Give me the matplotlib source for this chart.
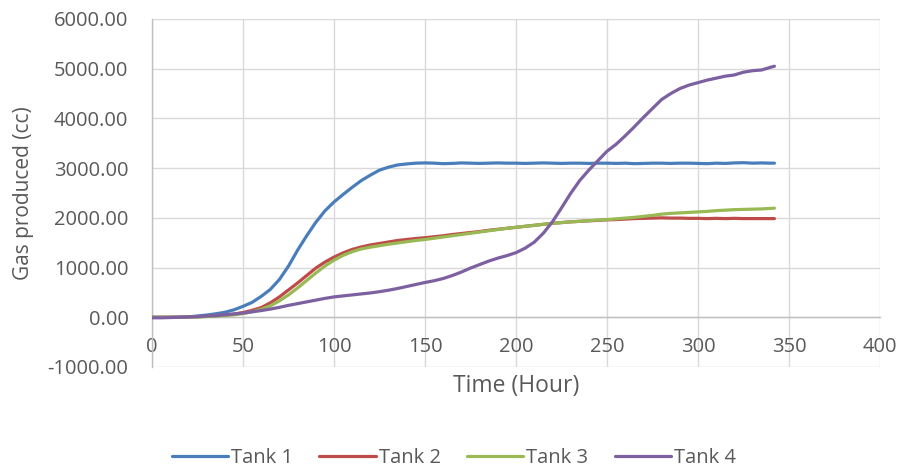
import matplotlib
matplotlib.use("Agg")
import matplotlib.pyplot as plt

plt.rcParams["font.family"] = ["Open Sans", "DejaVu Sans"]

# Sampling times (hours)
hours = list(range(0, 345, 5)) + [342]

tank1 = [0, 0, 0, 5, 10, 25, 45, 70, 100, 150, 220, 300, 420, 560, 760, 1030,
         1350, 1640, 1910, 2140, 2320, 2470, 2615, 2750, 2860, 2960, 3020, 3065,
         3085, 3100, 3105, 3100, 3090, 3095, 3105, 3100, 3095, 3100, 3105, 3100,
         3100, 3095, 3100, 3105, 3100, 3095, 3100, 3100, 3095, 3100, 3100, 3095,
         3100, 3090, 3095, 3100, 3100, 3095, 3100, 3100, 3095, 3090, 3100, 3095,
         3105, 3110, 3100, 3105, 3100, 3100]

tank2 = [0, 0, 0, 0, 5, 10, 20, 30, 45, 65, 95, 140, 195, 290, 410, 550, 690,
         840, 990, 1110, 1210, 1295, 1365, 1415, 1455, 1485, 1515, 1545, 1565,
         1585, 1600, 1620, 1640, 1665, 1685, 1705, 1725, 1750, 1770, 1790, 1810,
         1830, 1850, 1870, 1890, 1905, 1920, 1930, 1940, 1950, 1960, 1965, 1975,
         1985, 1990, 1995, 2000, 1995, 1995, 1990, 1990, 1985, 1990, 1985, 1990,
         1985, 1985, 1985, 1985, 1985]

tank3 = [0, 0, 0, 0, 0, 5, 15, 25, 35, 50, 75, 110, 160, 230, 330, 450, 590,
         740, 890, 1030, 1150, 1245, 1320, 1375, 1410, 1440, 1470, 1495, 1520,
         1545, 1565, 1590, 1615, 1640, 1665, 1690, 1715, 1740, 1765, 1790, 1810,
         1830, 1850, 1870, 1890, 1905, 1920, 1930, 1945, 1955, 1965, 1980, 1995,
         2010, 2030, 2050, 2075, 2090, 2100, 2110, 2120, 2130, 2145, 2155, 2165,
         2170, 2175, 2180, 2190, 2195]

tank4 = [-10, -10, -5, 0, 5, 15, 25, 35, 50, 65, 85, 110, 135, 165, 200, 240,
         275, 310, 345, 380, 410, 430, 450, 470, 490, 515, 545, 580, 620, 660,
         700, 735, 780, 840, 910, 990, 1060, 1130, 1190, 1240, 1300, 1390, 1510,
         1690, 1920, 2200, 2490, 2750, 2960, 3150, 3340, 3480, 3650, 3830, 4020,
         4200, 4380, 4500, 4600, 4670, 4720, 4770, 4810, 4850, 4875, 4930, 4960,
         4975, 5030, 5050]

series_names = ["Tank 1", "Tank 2", "Tank 3", "Tank 4"]
series_colors = ["#4A7EBB", "#BE4B48", "#98B954", "#7D60A0"]

x_ticks = [0, 50, 100, 150, 200, 250, 300, 350, 400]
y_ticks = [-1000, 0, 1000, 2000, 3000, 4000, 5000, 6000]

text_color = "#595959"
grid_color = "#D9D9D9"

fig = plt.figure(figsize=(9.04, 4.68), dpi=100)
ax = fig.add_axes([152 / 904, 1 - 367 / 468, 728 / 904, 348 / 468])

for vals, name, col in zip([tank1, tank2, tank3, tank4], series_names, series_colors):
    ax.plot(hours, vals, color=col, lw=2.3, label=name, solid_capstyle="round",
            zorder=3)

ax.set_xlim(0, 400)
ax.set_ylim(-1000, 6000)
ax.set_xticks(x_ticks)
ax.set_yticks(y_ticks)
ax.set_yticklabels([f"{v:.2f}" for v in y_ticks])
ax.set_xticklabels([str(v) for v in x_ticks])

ax.grid(True, color=grid_color, lw=1.0, zorder=0)
ax.set_axisbelow(True)

for side in ["top", "right"]:
    ax.spines[side].set_visible(False)
ax.spines["left"].set_color("#BFBFBF")
ax.spines["left"].set_linewidth(1.0)
ax.spines["bottom"].set_position(("data", 0))
ax.spines["bottom"].set_color("#BFBFBF")
ax.spines["bottom"].set_linewidth(1.0)

ax.tick_params(axis="both", length=0, labelsize=14.5, labelcolor=text_color)
ax.tick_params(axis="y", pad=17)
ax.tick_params(axis="x", pad=14)

ax.set_xlabel("Time (Hour)", fontsize=16.5, color=text_color, va="center")
ax.xaxis.set_label_coords(0.5, -19 / 348)
ax.set_ylabel("Gas produced (cc)", fontsize=15, color=text_color)
ax.yaxis.set_label_coords(-0.1615, 0.5)

leg = ax.legend(loc="center", bbox_to_anchor=(454 / 904, 1 - 458 / 468),
                bbox_transform=fig.transFigure, ncol=4, frameon=False,
                fontsize=14.5, handlelength=2.8, handletextpad=0.15,
                columnspacing=1.3, labelcolor=text_color)

fig.savefig("out.png", dpi=100)
